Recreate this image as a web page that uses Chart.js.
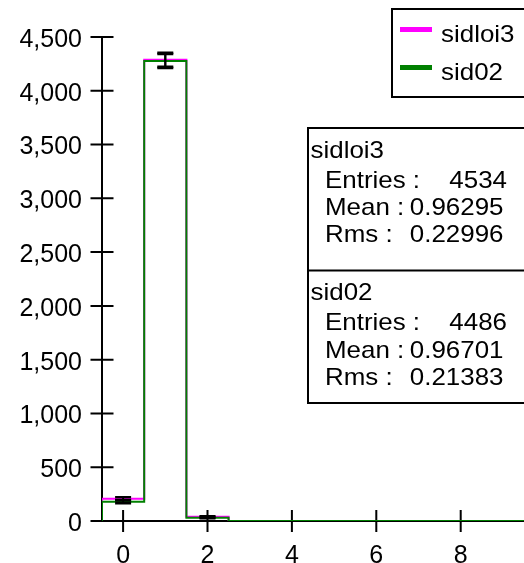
<!DOCTYPE html>
<html>
<head>
<meta charset="utf-8">
<script src="https://cdn.jsdelivr.net/npm/chart.js@4/dist/chart.umd.min.js"></script>
<style>
  html, body { margin: 0; padding: 0; background: #fff; }
  canvas { display: block; }
</style>
</head>
<body>
<canvas id="hist" width="524" height="563"></canvas>
<script>
'use strict';

/* ── Data ──────────────────────────────────────────────────── */
const binEdges      = [-0.5, 0.5, 1.5, 2.5, 3.5, 4.5, 5.5, 6.5, 7.5, 8.5, 9.5];
const binCenters    = [0, 1, 2, 3, 4, 5, 6, 7, 8, 9];
const sidloi3Counts = [207, 4288, 39, 0, 0, 0, 0, 0, 0, 0];
const sid02Counts   = [179, 4276, 31, 0, 0, 0, 0, 0, 0, 0];
const sidloi3Errors = [14, 65, 6, 0, 0, 0, 0, 0, 0, 0];
const sid02Errors   = [13, 65, 6, 0, 0, 0, 0, 0, 0, 0];
const xTicks        = [0, 2, 4, 6, 8];
const yTicks        = [0, 500, 1000, 1500, 2000, 2500, 3000, 3500, 4000, 4500];
const seriesNames   = ['sidloi3', 'sid02'];
const seriesColors  = ['#ff00ff', '#008000'];
const statEntries   = ['4534', '4486'];
const statMeans     = ['0.96295', '0.96701'];
const statRms       = ['0.22996', '0.21383'];

const FAMILY = '"Liberation Sans", Arial, sans-serif';
const STRETCH = 1.08;   // reference glyphs are a bit wider than Arial

/* ── Helpers ───────────────────────────────────────────────── */
// outline of a histogram as step points (value held until next edge)
function stepPoints(counts) {
  const pts = [{ x: binEdges[0], y: 0 }];
  counts.forEach((c, i) => pts.push({ x: binEdges[i], y: c }));
  pts.push({ x: binEdges[binEdges.length - 1], y: counts[counts.length - 1] });
  return pts;
}

function wideText(ctx, text, x, y, align) {
  ctx.save();
  ctx.translate(x, y);
  ctx.scale(STRETCH, 1);
  ctx.textAlign = align || 'left';
  ctx.fillText(text, 0, 0);
  ctx.restore();
}

/* ── Plugins ───────────────────────────────────────────────── */
const axesPlugin = {
  id: 'crossAxes',
  beforeDatasetsDraw(chart) {
    const { ctx, chartArea: a, scales: { x, y } } = chart;
    ctx.save();
    ctx.strokeStyle = '#000';
    ctx.lineWidth = 2;
    ctx.beginPath();
    ctx.moveTo(a.left, y.getPixelForValue(yTicks[yTicks.length - 1]));
    ctx.lineTo(a.left, a.bottom);
    ctx.moveTo(a.left, a.bottom);
    ctx.lineTo(a.right + 2, a.bottom);
    for (const v of yTicks) {
      const py = y.getPixelForValue(v);
      ctx.moveTo(a.left - 11.5, py);
      ctx.lineTo(a.left + 11.5, py);
    }
    for (const v of xTicks) {
      const px = x.getPixelForValue(v);
      ctx.moveTo(px, a.bottom - 11);
      ctx.lineTo(px, a.bottom + 11);
    }
    ctx.stroke();
    ctx.restore();
  },
};

const errorBarPlugin = {
  id: 'errorBars',
  afterDatasetsDraw(chart) {
    const { ctx, scales: { x, y } } = chart;
    ctx.save();
    ctx.strokeStyle = '#000';
    [[sidloi3Counts, sidloi3Errors], [sid02Counts, sid02Errors]].forEach(([counts, errs]) => {
      counts.forEach((c, i) => {
        if (!c) return;
        const px = x.getPixelForValue(binCenters[i]);
        const top = y.getPixelForValue(c + errs[i]);
        const bot = y.getPixelForValue(c - errs[i]);
        ctx.lineWidth = 2;
        ctx.beginPath();
        ctx.moveTo(px, top);
        ctx.lineTo(px, bot);
        ctx.stroke();
        ctx.lineWidth = 2.5;
        ctx.beginPath();
        ctx.moveTo(px - 8, top);
        ctx.lineTo(px + 8, top);
        ctx.moveTo(px - 8, bot);
        ctx.lineTo(px + 8, bot);
        ctx.stroke();
      });
    });
    ctx.restore();
  },
};

const boxesPlugin = {
  id: 'legendAndStats',
  afterDraw(chart) {
    const { ctx } = chart;
    ctx.save();
    ctx.fillStyle = '#fff';
    ctx.strokeStyle = '#000';
    ctx.lineWidth = 2;

    // legend box
    ctx.fillRect(392, 9, 140, 88);
    ctx.strokeRect(392, 9, 140, 88);
    ctx.font = '24px ' + FAMILY;
    ctx.textBaseline = 'alphabetic';
    seriesNames.forEach((name, i) => {
      const sy = 29.5 + i * 38;
      ctx.fillStyle = seriesColors[i];
      ctx.fillRect(400, sy - 2.5, 32, 5);
      ctx.fillStyle = '#000';
      wideText(ctx, name, 441, sy + 12.5);
    });

    // statistics box
    ctx.fillStyle = '#fff';
    ctx.fillRect(308, 128, 230, 275);
    ctx.strokeRect(308, 128, 230, 275);
    ctx.beginPath();
    ctx.moveTo(308, 270.5);
    ctx.lineTo(540, 270.5);
    ctx.stroke();

    ctx.fillStyle = '#000';
    const tops = [128, 270.5];
    seriesNames.forEach((name, i) => {
      const t = tops[i];
      wideText(ctx, name, 310.5, t + 29.5);
      wideText(ctx, 'Entries :', 325, t + 59.5);
      wideText(ctx, 'Mean :', 325, t + 87);
      wideText(ctx, 'Rms :', 325, t + 114);
      wideText(ctx, statEntries[i], 507, t + 59.5, 'right');
      wideText(ctx, statMeans[i], 503.5, t + 87, 'right');
      wideText(ctx, statRms[i], 503.5, t + 114, 'right');
    });
    ctx.restore();
  },
};

/* ── Chart ─────────────────────────────────────────────────── */
Chart.defaults.font.family = FAMILY;
Chart.defaults.font.size = 25;
Chart.defaults.color = '#000';

new Chart(document.getElementById('hist'), {
  type: 'line',
  data: {
    datasets: [
      {
        label: seriesNames[0],
        data: stepPoints(sidloi3Counts),
        borderColor: seriesColors[0],
        borderWidth: 2,
        stepped: true,
        pointRadius: 0,
        fill: false,
        order: 2,
      },
      {
        label: seriesNames[1],
        data: stepPoints(sid02Counts),
        borderColor: seriesColors[1],
        borderWidth: 2,
        stepped: true,
        pointRadius: 0,
        fill: false,
        order: 1,
      },
    ],
  },
  options: {
    responsive: false,
    animation: false,
    layout: { padding: { top: 37, right: 0, left: 0, bottom: 0 } },
    plugins: {
      legend: { display: false },
      tooltip: { enabled: false },
    },
    scales: {
      x: {
        type: 'linear',
        min: -0.5,
        max: 9.5,
        grid: { display: false, drawTicks: false },
        border: { display: false },
        afterBuildTicks: s => { s.ticks = xTicks.map(v => ({ value: v })); },
        afterFit: s => { s.height = 42; },
        ticks: { padding: 20, maxRotation: 0 },
      },
      y: {
        min: 0,
        max: 4500,
        grid: { display: false, drawTicks: false },
        border: { display: false },
        afterBuildTicks: s => { s.ticks = yTicks.map(v => ({ value: v })); },
        afterFit: s => { s.width = 102; },
        ticks: {
          padding: 20,
          labelOffset: 3,
          callback: v => v.toLocaleString('en-US'),
        },
      },
    },
  },
  plugins: [axesPlugin, errorBarPlugin, boxesPlugin],
});
</script>
</body>
</html>
